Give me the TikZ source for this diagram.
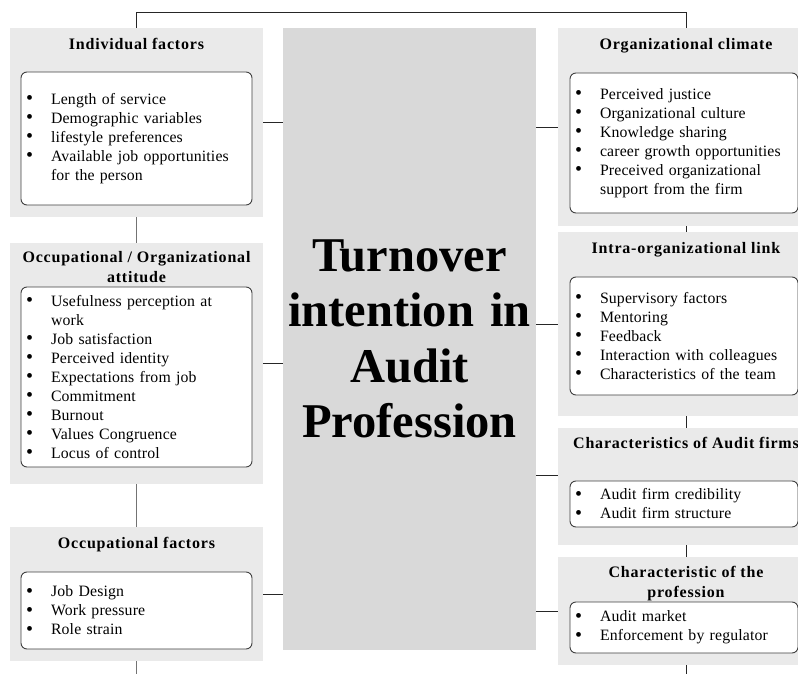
\documentclass[tikz,border=0pt]{standalone}
\usepackage{fontspec}
\setmainfont{Liberation Serif}

\definecolor{panelgray}{RGB}{234,234,234}
\definecolor{coregray}{RGB}{217,217,217}

\newcommand{\bodyfont}{\fontsize{15.8}{19}\selectfont\addfontfeature{LetterSpace=1}}
\newcommand{\headfont}{\fontsize{16}{20}\selectfont\bfseries\addfontfeature{LetterSpace=5}}
\newcommand{\itm}[1]{\makebox[25pt][l]{\raisebox{-0.6pt}{\fontsize{20}{19}\selectfont\textbullet}}#1}
\newcommand{\cont}{\hspace*{25pt}}

\begin{document}
\begin{tikzpicture}[x=1pt, y=-1pt,
	panel/.style={fill=panelgray, inner sep=0pt},
	itembox/.style={draw=black!75, line width=0.9pt, rounded corners=6pt, fill=white,
		align=left, inner xsep=5pt, inner ysep=0pt, font=\bodyfont},
	heading/.style={anchor=base, align=center, font=\headfont},
	wire/.style={draw=black!85, line width=0.8pt}]

		\useasboundingbox (0,0) rectangle (798,674);
		\clip (0,0) rectangle (798,674);

		% left column
		\node[panel, minimum width=253pt, minimum height=189pt] (ind) at (136.5,122.5) {};
		\node[panel, minimum width=253pt, minimum height=241pt] (att) at (136.5,363.5) {};
		\node[panel, minimum width=253pt, minimum height=134pt] (occ) at (136.5,594) {};

		% right column
		\node[panel, minimum width=256pt, minimum height=198pt] (clim) at (686,127) {};
		\node[panel, minimum width=256pt, minimum height=184pt] (link) at (686,324) {};
		\node[panel, minimum width=256pt, minimum height=117pt] (firm) at (686,486.5) {};
		\node[panel, minimum width=256pt, minimum height=108pt] (prof) at (686,611) {};

		% centre
		\node[fill=coregray, minimum width=253pt, minimum height=622pt, text width=245pt,
			align=center, inner sep=4pt, font=\fontsize{48.5}{55.5}\selectfont\bfseries]
			(core) at (409.5,339) {Turnover\\intention in\\Audit\\Profession};

		\node[heading] (indt) at (136.5,50) {Individual factors};
		\node[heading] (attt) at (136.5,282) {Occupational / Organizational\\attitude};
		\node[heading] (occt) at (136.5,548) {Occupational factors};
		\node[heading] (climt) at (686,50) {Organizational climate};
		\node[heading] (linkt) at (686,253) {Intra-organizational link};
		\node[heading] (firmt) at (686,448) {Characteristics of Audit firms};
		\node[heading] (proft) at (686,597) {Characteristic of the\\profession};

		\node[itembox, minimum height=133pt, text width=221pt] (indbox) at (136.5,138.5)
			{\itm{Length of service}\\\itm{Demographic variables}\\\itm{lifestyle preferences}\\
			 \itm{Available job opportunities}\\\cont for the person};
		\node[itembox, minimum height=180pt, text width=221pt] (attbox) at (136.5,377)
			{\itm{Usefulness perception at}\\\cont work\\\itm{Job satisfaction}\\
			 \itm{Perceived identity}\\\itm{Expectations from job}\\\itm{Commitment}\\
			 \itm{Burnout}\\\itm{Values Congruence}\\\itm{Locus of control}};
		\node[itembox, minimum height=77pt, text width=221pt] (occbox) at (136.5,610.5)
			{\itm{Job Design}\\\itm{Work pressure}\\\itm{Role strain}};
		\node[itembox, minimum height=140pt, text width=218pt] (climbox) at (684,143)
			{\itm{Perceived justice}\\\itm{Organizational culture}\\\itm{Knowledge sharing}\\
			 \itm{career growth opportunities}\\\itm{Preceived organizational}\\
			 \cont support from the firm};
		\node[itembox, minimum height=118pt, text width=218pt] (linkbox) at (684,336)
			{\itm{Supervisory factors}\\\itm{Mentoring}\\\itm{Feedback}\\
			 \itm{Interaction with colleagues}\\\itm{Characteristics of the team}};
		\node[itembox, minimum height=46pt, text width=218pt] (firmbox) at (684,504)
			{\itm{Audit firm credibility}\\\itm{Audit firm structure}};
		\node[itembox, minimum height=51pt, text width=218pt] (profbox) at (684,627.5)
			{\itm{Audit market}\\\itm{Enforcement by regulator}};

		\coordinate (lend) at (136.5,674);
		\coordinate (rend) at (686,674);

		\draw[wire] (ind.north) -- ++(0,-15) -| (clim.north);

		\draw[wire, draw=black!55] (ind.south) -- (att.north);
		\draw[wire, draw=black!55] (att.south) -- (occ.north);
		\draw[wire, draw=black!55] (occ.south) -- (lend);
		\draw[wire] (clim.south) -- (link.north);
		\draw[wire] (link.south) -- (firm.north);
		\draw[wire] (firm.south) -- (prof.north);
		\draw[wire] (prof.south) -- (rend);

		\draw[wire] (ind.east) -- (core.west |- ind.east);
		\draw[wire] (att.east) -- (core.west |- att.east);
		\draw[wire] (occ.east) -- (core.west |- occ.east);
		\draw[wire] (clim.west) -- (core.east |- clim.west);
		\draw[wire] (link.west) -- (core.east |- link.west);
		\draw[wire] ([yshift=11.5pt]firm.west) -- ++(-22,0);
		\draw[wire] (prof.west) -- (core.east |- prof.west);

	\end{tikzpicture}
\end{document}
